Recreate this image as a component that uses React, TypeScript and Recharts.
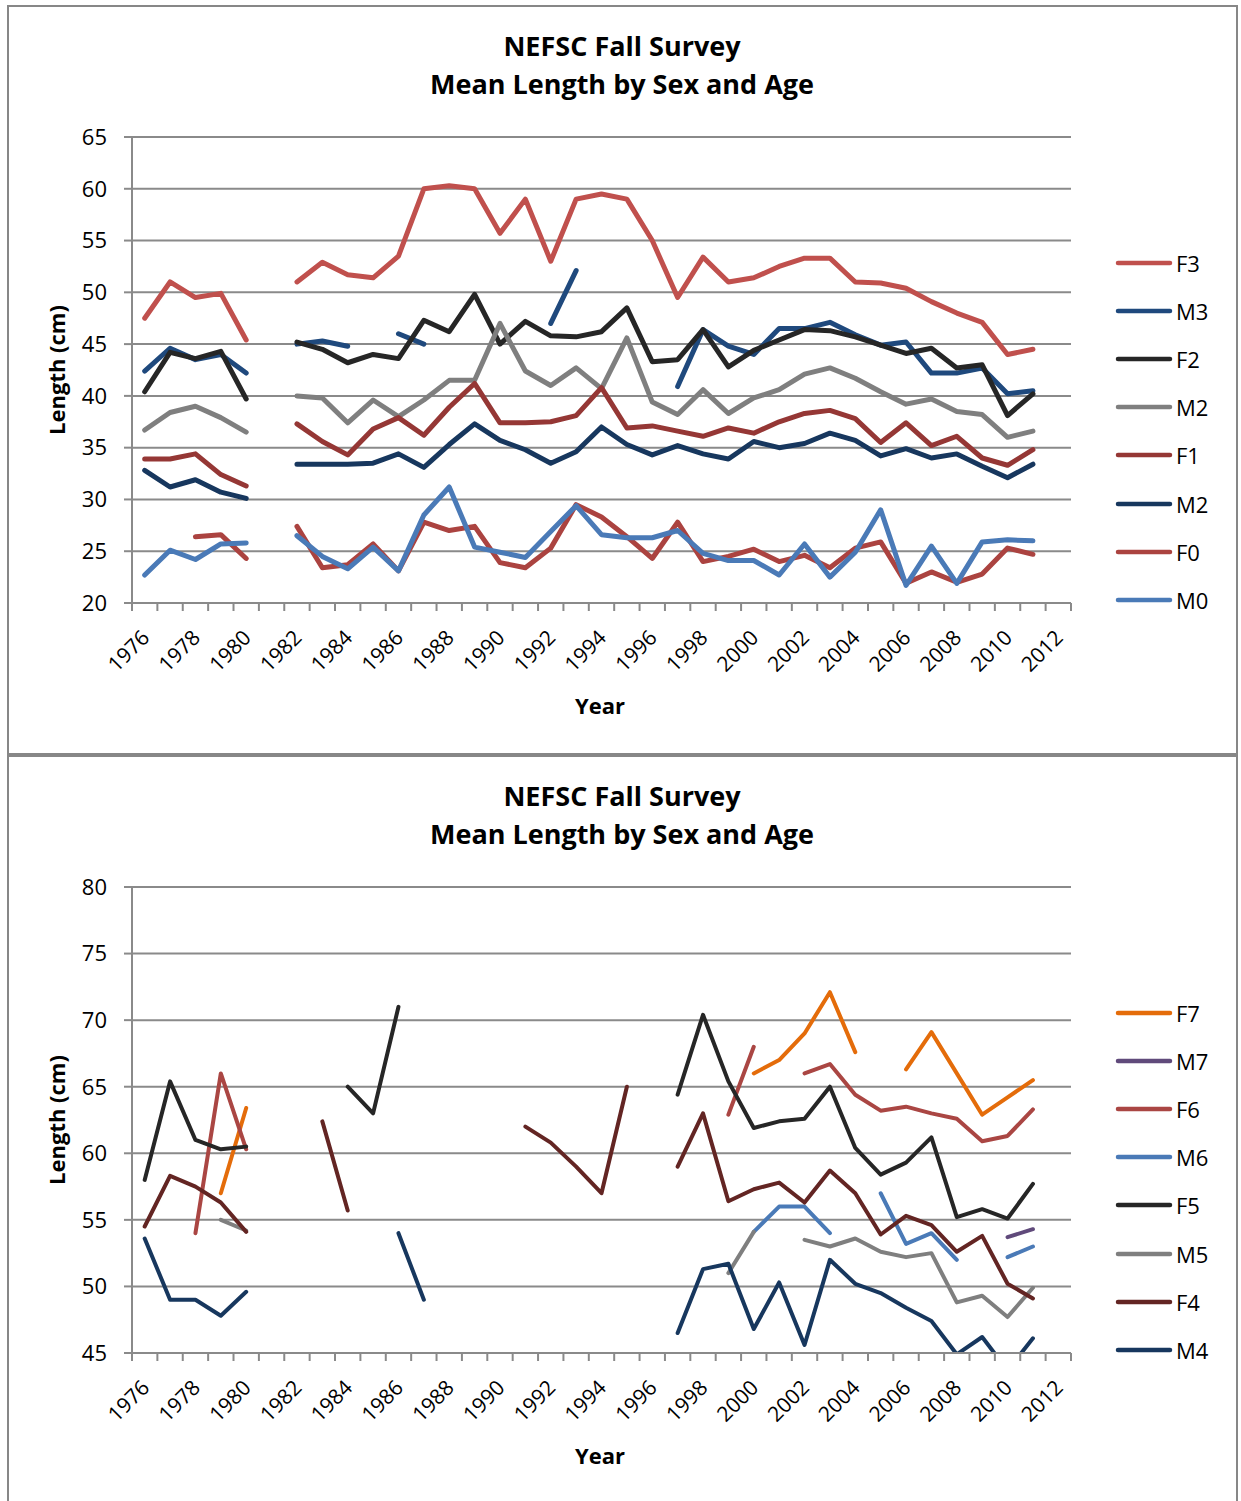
import React from 'react'
import { LineChart, Line, XAxis, YAxis, CartesianGrid, Legend } from 'recharts'

const _ = null

// 1976 .. 2012, one category per year
const years = [
  1976, 1977, 1978, 1979, 1980, 1981, 1982, 1983, 1984, 1985, 1986, 1987, 1988,
  1989, 1990, 1991, 1992, 1993, 1994, 1995, 1996, 1997, 1998, 1999, 2000, 2001,
  2002, 2003, 2004, 2005, 2006, 2007, 2008, 2009, 2010, 2011, 2012,
]

// upper chart: ages 0-3
const f3 = [47.5, 51.0, 49.5, 49.9, 45.4, _, 51.0, 52.9, 51.7, 51.4, 53.5, 60.0, 60.3, 60.0, 55.7, 59.0, 53.0, 59.0, 59.5, 59.0, 55.0, 49.5, 53.4, 51.0, 51.4, 52.5, 53.3, 53.3, 51.0, 50.9, 50.4, 49.1, 48.0, 47.1, 44.0, 44.5, _]
const m3 = [42.4, 44.6, 43.5, 44.0, 42.2, _, 45.0, 45.3, 44.8, _, 46.0, 45.0, _, _, _, _, 47.0, 52.1, _, _, _, 40.9, 46.4, 44.8, 44.0, 46.5, 46.5, 47.1, 45.9, 44.9, 45.2, 42.2, 42.2, 42.7, 40.2, 40.5, _]
const f2 = [40.4, 44.2, 43.6, 44.3, 39.7, _, 45.2, 44.5, 43.2, 44.0, 43.6, 47.3, 46.2, 49.8, 45.0, 47.2, 45.8, 45.7, 46.2, 48.5, 43.3, 43.5, 46.4, 42.8, 44.4, 45.4, 46.4, 46.3, 45.7, 44.9, 44.1, 44.6, 42.7, 43.0, 38.1, 40.2, _]
const m2 = [36.7, 38.4, 39.0, 37.9, 36.5, _, 40.0, 39.8, 37.4, 39.6, 38.0, 39.6, 41.5, 41.5, 47.0, 42.4, 41.0, 42.7, 40.7, 45.6, 39.4, 38.2, 40.6, 38.3, 39.8, 40.6, 42.1, 42.7, 41.7, 40.4, 39.2, 39.7, 38.5, 38.2, 36.0, 36.6, _]
const f1 = [33.9, 33.9, 34.4, 32.4, 31.3, _, 37.3, 35.6, 34.3, 36.8, 37.9, 36.2, 38.9, 41.2, 37.4, 37.4, 37.5, 38.1, 40.8, 36.9, 37.1, 36.6, 36.1, 36.9, 36.4, 37.5, 38.3, 38.6, 37.8, 35.5, 37.4, 35.2, 36.1, 34.0, 33.3, 34.8, _]
const m1 = [32.8, 31.2, 31.9, 30.7, 30.1, _, 33.4, 33.4, 33.4, 33.5, 34.4, 33.1, 35.3, 37.3, 35.7, 34.8, 33.5, 34.6, 37.0, 35.3, 34.3, 35.2, 34.4, 33.9, 35.6, 35.0, 35.4, 36.4, 35.7, 34.2, 34.9, 34.0, 34.4, 33.2, 32.1, 33.4, _]
const f0 = [_, _, 26.4, 26.6, 24.3, _, 27.4, 23.4, 23.7, 25.7, 23.1, 27.8, 27.0, 27.4, 23.9, 23.4, 25.3, 29.5, 28.3, 26.4, 24.3, 27.8, 24.0, 24.5, 25.2, 24.0, 24.6, 23.4, 25.3, 25.9, 21.9, 23.0, 22.0, 22.8, 25.3, 24.7, _]
const m0 = [22.7, 25.1, 24.2, 25.7, 25.8, _, 26.5, 24.5, 23.3, 25.4, 23.1, 28.5, 31.2, 25.4, 24.9, 24.4, 26.9, 29.4, 26.6, 26.3, 26.3, 27.0, 24.8, 24.1, 24.1, 22.7, 25.7, 22.5, 24.9, 29.0, 21.7, 25.5, 21.9, 25.9, 26.1, 26.0, _]

// lower chart: ages 4-7
const f7 = [_, _, _, 57.0, 63.4, _, _, _, _, _, _, _, _, _, _, _, _, _, _, _, _, _, _, _, 66.0, 67.0, 69.0, 72.1, 67.6, _, 66.3, 69.1, 66.0, 62.9, 64.2, 65.5, _]
const m7 = [_, _, _, _, _, _, _, _, _, _, _, _, _, _, _, _, _, _, _, _, _, _, _, _, _, _, _, _, _, _, _, _, _, _, 53.7, 54.3, _]
const f6 = [_, _, 54.0, 66.0, 60.3, _, _, _, _, _, _, _, _, _, _, _, _, _, _, _, _, _, _, 62.9, 68.0, _, 66.0, 66.7, 64.4, 63.2, 63.5, 63.0, 62.6, 60.9, 61.3, 63.3, _]
const m6 = [_, _, _, _, _, _, _, _, _, _, _, _, _, _, _, _, _, _, _, _, _, _, _, _, 54.1, 56.0, 56.0, 54.0, _, 57.0, 53.2, 54.0, 52.0, _, 52.2, 53.0, _]
const f5 = [58.0, 65.4, 61.0, 60.3, 60.5, _, _, _, 65.0, 63.0, 71.0, _, _, _, _, _, _, _, _, _, _, 64.4, 70.4, 65.4, 61.9, 62.4, 62.6, 65.0, 60.4, 58.4, 59.3, 61.2, 55.2, 55.8, 55.1, 57.7, _]
const m5 = [_, _, _, 55.0, 54.2, _, _, _, _, _, _, _, _, _, _, _, _, _, _, _, _, _, _, 51.0, 54.1, _, 53.5, 53.0, 53.6, 52.6, 52.2, 52.5, 48.8, 49.3, 47.7, 49.9, _]
const f4 = [54.5, 58.3, 57.5, 56.3, 54.1, _, _, 62.4, 55.7, _, _, _, _, _, _, 62.0, 60.8, 59.0, 57.0, 65.0, _, 59.0, 63.0, 56.4, 57.3, 57.8, 56.3, 58.7, 57.0, 53.9, 55.3, 54.6, 52.6, 53.8, 50.2, 49.1, _]
const m4 = [53.6, 49.0, 49.0, 47.8, 49.6, _, _, _, _, _, 54.0, 49.0, _, _, _, _, _, _, _, _, _, 46.5, 51.3, 51.7, 46.8, 50.3, 45.6, 52.0, 50.2, 49.5, 48.4, 47.4, 44.9, 46.2, 43.7, 46.1, _]

const ticksTop = [20, 25, 30, 35, 40, 45, 50, 55, 60, 65]
const ticksBottom = [45, 50, 55, 60, 65, 70, 75, 80]

const FONT = '"Open Sans", Calibri, sans-serif'
const GRID = '#8a8a8a'
const W = 1241
const H = 750
const PLOT_LEFT = 132
const PLOT_RIGHT = 1071
const BAND = (PLOT_RIGHT - PLOT_LEFT) / years.length

type Series = { key: string; name: string; values: (number | null)[]; color: string }

const topSeries: Series[] = [
  { key: 'F3', name: 'F3', values: f3, color: '#C0504D' },
  { key: 'M3', name: 'M3', values: m3, color: '#1F497D' },
  { key: 'F2', name: 'F2', values: f2, color: '#262626' },
  { key: 'M2', name: 'M2', values: m2, color: '#7F7F7F' },
  { key: 'F1', name: 'F1', values: f1, color: '#953735' },
  { key: 'M1', name: 'M2', values: m1, color: '#17375E' },
  { key: 'F0', name: 'F0', values: f0, color: '#AB4340' },
  { key: 'M0', name: 'M0', values: m0, color: '#4A7AB7' },
]

const bottomSeries: Series[] = [
  { key: 'F7', name: 'F7', values: f7, color: '#E46C0A' },
  { key: 'M7', name: 'M7', values: m7, color: '#604A7B' },
  { key: 'F6', name: 'F6', values: f6, color: '#AA4643' },
  { key: 'M6', name: 'M6', values: m6, color: '#4A7AB7' },
  { key: 'F5', name: 'F5', values: f5, color: '#262626' },
  { key: 'M5', name: 'M5', values: m5, color: '#7F7F7F' },
  { key: 'F4', name: 'F4', values: f4, color: '#632523' },
  { key: 'M4', name: 'M4', values: m4, color: '#17375E' },
]

function YearTick(props: any) {
  const { x, y, payload, index } = props
  const half = BAND / 2
  const last = index === years.length - 1
  return (
    <g>
      <line x1={x - half} x2={x - half} y1={y} y2={y + 8} stroke={GRID} strokeWidth={2} />
      {last && <line x1={x + half} x2={x + half} y1={y} y2={y + 8} stroke={GRID} strokeWidth={2} />}
      {payload.value % 2 === 0 && (
        <text
          transform={`translate(${x + 6},${y + 36}) rotate(-45)`}
          textAnchor="end"
          fontSize={21}
          fontFamily={FONT}
          fill="#000"
        >
          {payload.value}
        </text>
      )}
    </g>
  )
}

// legend keeps the series order (no alphabetical sorting)
function makeLegend(series: Series[]) {
  return function LegendBox() {
    return (
      <div style={{ fontFamily: FONT }}>
        {series.map((s) => (
          <div key={s.key} style={{ display: 'flex', alignItems: 'center', height: 48.2 }}>
            <svg width={60} height={10}>
              <line x1={5} y1={5} x2={57} y2={5} stroke={s.color} strokeWidth={4.5} strokeLinecap="round" />
            </svg>
            <span style={{ fontSize: 22, marginLeft: 3, color: '#000', lineHeight: '30px' }}>{s.name}</span>
          </div>
        ))}
      </div>
    )
  }
}

function Panel({ top, series, domain, ticks, lineWidth }: {
  top: number
  series: Series[]
  domain: [number, number]
  ticks: number[]
  lineWidth: number
}) {
  const data = years.map((year, i) => {
    const row: Record<string, number | null> = { year }
    series.forEach((s) => {
      row[s.key] = s.values[i]
    })
    return row
  })
  const LegendBox = makeLegend(series)

  return (
    <div style={{ position: 'absolute', left: 0, top, width: W, height: H }}>
      <div
        style={{
          position: 'absolute',
          left: 7,
          top: 5,
          width: 1231,
          height: 750,
          border: '2px solid #878787',
          boxSizing: 'border-box',
          background: '#fff',
        }}
      />
      <div style={{ position: 'absolute', left: 0, top: 0 }}>
        <LineChart width={W} height={H} data={data} margin={{ top: 137, right: W - PLOT_RIGHT, left: 0, bottom: 47 }}>
          <CartesianGrid vertical={false} stroke={GRID} strokeWidth={2} />
          <XAxis
            dataKey="year"
            interval={0}
            padding={{ left: BAND / 2, right: BAND / 2 }}
            height={100}
            tickLine={false}
            tickSize={0}
            tickMargin={0}
            axisLine={{ stroke: GRID, strokeWidth: 2 }}
            tick={<YearTick />}
          />
          <YAxis
            type="number"
            domain={domain}
            ticks={ticks}
            interval={0}
            allowDataOverflow
            width={PLOT_LEFT}
            tickSize={8}
            tickMargin={17}
            axisLine={{ stroke: GRID, strokeWidth: 2 }}
            tickLine={{ stroke: GRID, strokeWidth: 2 }}
            tick={{ fontSize: 22, fill: '#000', fontFamily: FONT }}
          />
          {series.map((s) => (
            <Line
              key={s.key}
              type="linear"
              dataKey={s.key}
              name={s.name}
              stroke={s.color}
              strokeWidth={lineWidth}
              strokeLinecap="round"
              strokeLinejoin="round"
              dot={false}
              activeDot={false}
              isAnimationActive={false}
            />
          ))}
          <Legend
            layout="vertical"
            align="center"
            verticalAlign="middle"
            content={<LegendBox />}
            wrapperStyle={{ left: 1113, top: 238.6, width: 120 }}
          />
        </LineChart>
      </div>
      <svg
        width={W}
        height={H}
        style={{ position: 'absolute', left: 0, top: 0, pointerEvents: 'none' }}
        fontFamily={FONT}
      >
        <text x={622} y={56} textAnchor="middle" fontSize={27} fontWeight="bold" fill="#000">
          NEFSC Fall Survey
        </text>
        <text x={622} y={94} textAnchor="middle" fontSize={27} fontWeight="bold" fill="#000">
          Mean Length by Sex and Age
        </text>
        <text transform="translate(65,370) rotate(-90)" textAnchor="middle" fontSize={22} fontWeight="bold" fill="#000">
          Length (cm)
        </text>
        <text x={600} y={714} textAnchor="middle" fontSize={22} fontWeight="bold" fill="#000">
          Year
        </text>
      </svg>
    </div>
  )
}

export default function App() {
  return (
    <div style={{ position: 'absolute', left: 0, top: 0, width: W, height: 1501, overflow: 'hidden', background: '#fff' }}>
      <Panel top={0} series={topSeries} domain={[20, 65]} ticks={ticksTop} lineWidth={5} />
      <Panel top={750} series={bottomSeries} domain={[45, 80]} ticks={ticksBottom} lineWidth={4} />
    </div>
  )
}
